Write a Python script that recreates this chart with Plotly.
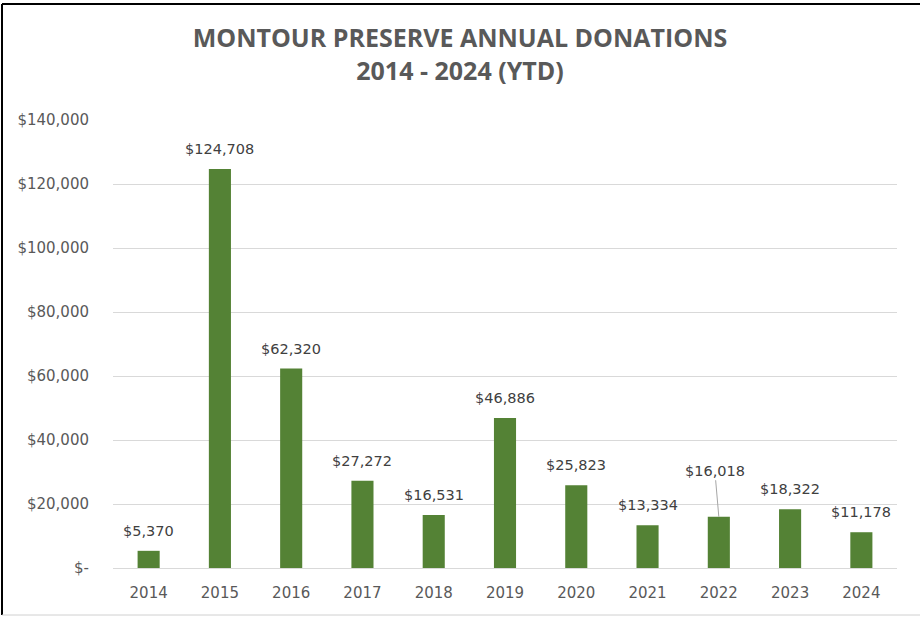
import plotly.graph_objects as go

years = [2014, 2015, 2016, 2017, 2018, 2019, 2020, 2021, 2022, 2023, 2024]
donations = [5370, 124708, 62320, 27272, 16531, 46886, 25823, 13334, 16018, 18322, 11178]
tick_vals = [0, 20000, 40000, 60000, 80000, 100000, 120000, 140000]
tick_text = ["$-", "$20,000", "$40,000", "$60,000", "$80,000", "$100,000", "$120,000", "$140,000"]

BAR = "#548235"
TICK = "#595959"
LABEL = "#404040"
FONT = "DejaVu Sans"

fig = go.Figure()
fig.add_trace(go.Bar(x=years, y=donations, width=0.31,
                     marker=dict(color=BAR, line=dict(width=0))))

annotations = []
for yr, v in zip(years, donations):
    txt = "${:,}".format(v)
    if yr == 2022:
        annotations.append(dict(x=yr, y=v, text=txt, showarrow=True, arrowhead=0,
                                arrowwidth=1, arrowcolor="#a6a6a6", ax=-4, ay=-46,
                                standoff=0, font=dict(family=FONT, size=14.5, color=LABEL)))
    else:
        annotations.append(dict(x=yr, y=v, text=txt, showarrow=False, yanchor="middle",
                                yshift=20, font=dict(family=FONT, size=14.5, color=LABEL)))

L, R, T, B = 113, 23, 120, 50
W, H = 920, 618
pw, ph = W - L - R, H - T - B
xl = (2 - L) / pw
xr = (W - L) / pw
yt = 1 + (T - 4) / ph
yb = -(615 - (H - B)) / ph

fig.update_layout(
    width=W, height=H,
    margin=dict(l=L, r=R, t=T, b=B),
    paper_bgcolor="white", plot_bgcolor="white",
    showlegend=False,
    title=dict(text="<b>MONTOUR PRESERVE ANNUAL DONATIONS<br>2014 - 2024 (YTD)</b>",
               x=0.5, xanchor="center", xref="container", y=1 - 47 / H, yanchor="top",
               yref="container",
               font=dict(family="Open Sans", size=25, color=TICK)),
    xaxis=dict(range=[2013.5, 2024.5], tickmode="array", tickvals=years,
               ticktext=[str(y) for y in years], showgrid=False, showline=True,
               linecolor="#d9d9d9", zeroline=False,
               ticks="outside", ticklen=11, tickcolor="white",
               tickfont=dict(family=FONT, size=15, color=TICK)),
    yaxis=dict(range=[0, 140000], tickmode="array", tickvals=tick_vals, ticktext=tick_text,
               showgrid=True, gridcolor="#d9d9d9", gridwidth=1, zeroline=False,
               showline=False, ticks="outside", ticklen=20, tickcolor="white",
               tickfont=dict(family=FONT, size=15, color=TICK)),
    annotations=annotations,
    shapes=[
        dict(type="line", xref="paper", yref="paper", x0=xl, x1=xr, y0=yt, y1=yt,
             line=dict(color="black", width=2)),
        dict(type="line", xref="paper", yref="paper", x0=xl, x1=xl, y0=yt, y1=yb,
             line=dict(color="black", width=2)),
        dict(type="line", xref="paper", yref="paper", x0=xl, x1=xr, y0=yb, y1=yb,
             line=dict(color="#d0d0d0", width=1)),
    ],
)

fig.write_html("out.html", config={"displayModeBar": False},
               post_script="document.body.style.margin='0';")
